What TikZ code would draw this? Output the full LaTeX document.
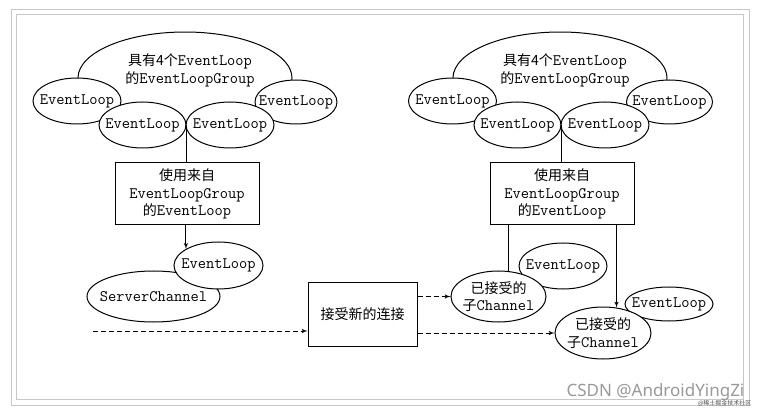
\documentclass[tikz,border=0pt]{standalone}
\usepackage{fontspec}
\newfontfamily\cjk{Noto Sans CJK SC}
\newfontfamily\marksans{Noto Sans}
\usetikzlibrary{shapes,arrows}
\tikzstyle{block} = [rectangle, draw, line width=1pt, align=center, fill=white]
\tikzstyle{evloop} = [ellipse, draw, line width=1pt, fill=white]
\tikzstyle{boundingbox} = [line width=0.8pt, black!22]
\tikzstyle{line} = [draw, line width=1pt]
\tikzstyle{arrow} = [draw, -latex', line width=1pt]
\tikzstyle{dashline} = [dash pattern=on 5pt off 3pt]
\newcommand{\zh}[1]{{\cjk\fontsize{14}{17.5}\selectfont #1}}

\begin{document}
\begin{tikzpicture}[x=1pt, y=-1pt, every node/.style={font=\ttfamily\fontsize{16}{17.5}\selectfont, align=center}]
\useasboundingbox (0,0) rectangle (766,414);
%% frame
\draw[boundingbox] (11,9) rectangle (749,405);
\draw[boundingbox] (16,14) rectangle (743,399);

%% server side
\coordinate (groupc) at (185,78);
\path[line] ([shift={(175:107 and 46)}]groupc) arc[start angle=175, end angle=365, x radius=107, y radius=46];
\node[evloop, minimum width=88, minimum height=46] at (77,101) (el1) {};
\node[evloop, minimum width=82, minimum height=44] at (296,102) (el4) {};
\node[evloop, minimum width=87, minimum height=46] at (142.5,125) (el2) {};
\node[evloop, minimum width=88, minimum height=46] at (230,125) (el3) {};
\node at (190,70.5) (grouptext) {\zh{具有4个}EventLoop\\\zh{的}EventLoopGroup};
\node at (el1) (el1text) {EventLoop};
\node at (el4) (el4text) {EventLoop};
\node at (el2) (el2text) {EventLoop};
\node at (el3) (el3text) {EventLoop};

\node[block, minimum width=144, minimum height=62] at (187,194) (box) {\zh{使用来自}\\EventLoopGroup\\\zh{的}EventLoop};
\path[line] (el2.east) -- (el2.east |- box.north);

\node[evloop, minimum width=133, minimum height=51] at (153.5,296.5) (srvch) {};
\node[evloop, minimum width=89, minimum height=47] at (218.5,265.5) (srvloop) {};
\node at (srvch) (srvchtext) {ServerChannel};
\node at (srvloop) (srvlooptext) {EventLoop};
\path[arrow] (srvloop.153 |- box.south) -- (srvloop.153);

%% new connections
\coordinate (newconn) at (93,331);
\node[block, minimum width=109, minimum height=63] at (362.5,314.5) (accept) {\zh{接受新的连接}};
\path[arrow, dashline] (newconn) -- (newconn -| accept.west);

%% child channels
\begin{scope}[shift={(375,0)}]
\coordinate (rgroupc) at (185,78);
\path[line] ([shift={(175:107 and 46)}]rgroupc) arc[start angle=175, end angle=365, x radius=107, y radius=46];
\node[evloop, minimum width=88, minimum height=46] at (77.5,101) (rel1) {};
\node[evloop, minimum width=86, minimum height=44] at (294.5,102) (rel4) {};
\node[evloop, minimum width=87, minimum height=46] at (142.5,125) (rel2) {};
\node[evloop, minimum width=88, minimum height=46] at (230,125) (rel3) {};
\node at (190,70.5) (rgrouptext) {\zh{具有4个}EventLoop\\\zh{的}EventLoopGroup};
\node at (rel1) (rel1text) {EventLoop};
\node at (rel4) (rel4text) {EventLoop};
\node at (rel2) (rel2text) {EventLoop};
\node at (rel3) (rel3text) {EventLoop};

\node[block, minimum width=144, minimum height=62] at (187,194) (rbox) {\zh{使用来自}\\EventLoopGroup\\\zh{的}EventLoop};
\path[line] (rel2.east) -- (rel2.east |- rbox.north);

\node[evloop, minimum width=88, minimum height=46] at (188,266) (rloop1) {};
\node[evloop, minimum width=95, minimum height=51] at (123.5,296.5) (rchild1) {};
\node[evloop, minimum width=88, minimum height=34] at (294,304) (rloop2) {};
\node[evloop, minimum width=96, minimum height=52] at (228,333) (rchild2) {};
\node at (rloop1) (rloop1text) {EventLoop};
\node at (rchild1) (rchild1text) {\zh{已接受的}\\\zh{子}Channel};
\node at (rloop2) (rloop2text) {EventLoop};
\node at (rchild2) (rchild2text) {\zh{已接受的}\\\zh{子}Channel};

\path[line] (rchild1.68 |- rbox.south) -- (rchild1.68);
\path[arrow] (rchild2.62 |- rbox.south) -- (rchild2.62);
\end{scope}
\path[arrow, dashline] (rchild1.west -| accept.east) -- (rchild1.west);
\path[arrow, dashline] (rchild2.west -| accept.east) -- (rchild2.west);

%% watermark
\node[anchor=base west, text=black!40, font=\marksans\fontsize{17}{17}\selectfont] at (563,396) (csdn) {CSDN @AndroidYingZi};
\node[anchor=base east, text=black!70, font=\cjk\fontsize{6}{6}\selectfont] at (755,405) (juejin) {@稀土掘金技术社区};
\end{tikzpicture}
\end{document}
